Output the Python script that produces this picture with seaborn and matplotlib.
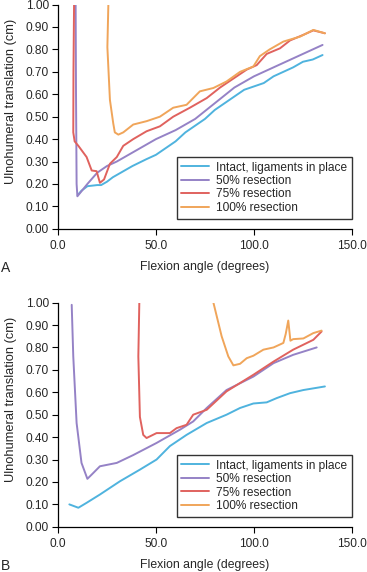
"""Ulnohumeral translation vs flexion angle, two panels (A, B)."""

import matplotlib
matplotlib.use("Agg")
import matplotlib.pyplot as plt
import seaborn as sns

# ---- data: panel A ----
a_intact_x = [10, 12, 15, 20, 22, 25, 28, 32, 38, 45, 50, 55, 60, 65, 70, 75, 80, 85,
              90, 95, 100, 105, 110, 115, 120, 125, 130, 135]
a_intact_y = [0.15, 0.17, 0.19, 0.195, 0.195, 0.21, 0.23, 0.25, 0.28, 0.31, 0.33, 0.36,
              0.39, 0.43, 0.46, 0.49, 0.53, 0.56, 0.59, 0.62, 0.635, 0.65, 0.68, 0.70,
              0.72, 0.745, 0.755, 0.775]
a_50_x = [9.0, 9.2, 9.5, 9.9, 15, 20, 25, 30, 40, 50, 60, 70, 80, 90, 100, 110, 120, 130, 135]
a_50_y = [1.0, 0.6, 0.2, 0.145, 0.20, 0.25, 0.28, 0.30, 0.35, 0.40, 0.44, 0.49, 0.56,
          0.63, 0.68, 0.72, 0.76, 0.80, 0.82]
a_75_x = [8.2, 7.9, 7.8, 8.5, 10.4, 14.6, 17.2, 19.7, 21.4, 23.5, 26.5, 30, 33.3, 38.4,
          45.2, 52, 58.8, 67.3, 75.9, 82.7, 89.5, 96.3, 101.4, 106.5, 113.3, 118.4,
          125.2, 130.3, 136.2]
a_75_y = [1.0, 0.7, 0.43, 0.39, 0.37, 0.32, 0.26, 0.257, 0.205, 0.22, 0.29, 0.32, 0.37,
          0.40, 0.435, 0.457, 0.50, 0.54, 0.583, 0.63, 0.67, 0.71, 0.73, 0.78, 0.805,
          0.84, 0.865, 0.885, 0.872]
a_100_x = [25.7, 25.2, 26.5, 28.2, 29, 30.8, 33.3, 38.4, 45.2, 52, 58.8, 65.6, 72.4,
           79.3, 86, 92.9, 99.7, 103, 108, 115, 123.5, 130.3, 136.2]
a_100_y = [1.0, 0.81, 0.575, 0.47, 0.43, 0.42, 0.43, 0.465, 0.48, 0.50, 0.54, 0.553,
           0.613, 0.628, 0.657, 0.70, 0.724, 0.77, 0.80, 0.835, 0.857, 0.887, 0.872]

# ---- data: panel B ----
b_intact_x = [5.8, 10.4, 14.6, 21.4, 31.6, 41.8, 50.3, 57.1, 65.6, 75.9, 86, 92.9, 99.7,
              106.5, 111.6, 118.4, 125.2, 136.2]
b_intact_y = [0.10, 0.085, 0.107, 0.144, 0.203, 0.255, 0.30, 0.36, 0.41, 0.463, 0.50,
              0.53, 0.55, 0.555, 0.574, 0.596, 0.61, 0.626]
b_50_x = [7, 7.8, 9.5, 12, 15, 17.2, 21.4, 30, 38.4, 50.3, 62.2, 69, 75.9, 86, 99.7, 110,
          120, 132]
b_50_y = [0.99, 0.76, 0.463, 0.285, 0.214, 0.233, 0.27, 0.285, 0.32, 0.374, 0.433, 0.47,
          0.53, 0.61, 0.67, 0.73, 0.767, 0.80]
b_75_x = [41.5, 41, 41.8, 43.5, 45.2, 50.3, 57.1, 60.5, 65.6, 69, 75.9, 86, 99.7, 110,
          120, 130.3, 134.5]
b_75_y = [1.0, 0.76, 0.49, 0.41, 0.396, 0.418, 0.418, 0.44, 0.455, 0.50, 0.522, 0.604,
          0.678, 0.737, 0.79, 0.834, 0.871]
b_100_x = [79.3, 83.5, 86.9, 89.5, 92.9, 96.3, 99.7, 104.8, 110, 115, 116.2, 117.5,
           118.6, 120, 125.2, 130.3, 134.5]
b_100_y = [1.0, 0.85, 0.76, 0.72, 0.727, 0.752, 0.763, 0.79, 0.80, 0.82, 0.86, 0.92,
           0.83, 0.837, 0.84, 0.864, 0.875]

series_labels = ["Intact, ligaments in place", "50% resection", "75% resection",
                 "100% resection"]
series_colors = ["#4fb3de", "#9582c6", "#e0625e", "#f0a55a"]
x_ticks = [0, 50, 100, 150]
y_ticks = [0.0, 0.1, 0.2, 0.3, 0.4, 0.5, 0.6, 0.7, 0.8, 0.9, 1.0]

panels = [
    ("A", [(a_intact_x, a_intact_y), (a_50_x, a_50_y), (a_75_x, a_75_y), (a_100_x, a_100_y)]),
    ("B", [(b_intact_x, b_intact_y), (b_50_x, b_50_y), (b_75_x, b_75_y), (b_100_x, b_100_y)]),
]

sns.set_style("ticks")
plt.rcParams["font.family"] = ["Liberation Sans", "DejaVu Sans"]

fig = plt.figure(figsize=(3.67, 5.72), dpi=100)
axes_boxes = [[0.158, 0.600, 0.801, 0.392], [0.158, 0.079, 0.801, 0.392]]

for (letter, series), box in zip(panels, axes_boxes):
    ax = fig.add_axes(box)
    for (xs, ys), label, color in zip(series, series_labels, series_colors):
        sns.lineplot(x=xs, y=ys, sort=False, estimator=None, color=color, lw=1.4,
                     label=label, ax=ax)
    ax.set_xlim(0, 150)
    ax.set_ylim(0, 1.0)
    ax.set_xticks(x_ticks)
    ax.set_xticklabels([f"{t:.1f}" for t in x_ticks])
    ax.set_yticks(y_ticks)
    ax.set_yticklabels([f"{t:.2f}" for t in y_ticks])
    ax.tick_params(labelsize=8.6, length=4, width=0.8, color="black", pad=2.5)
    ax.tick_params(axis="x", pad=4)
    for side in ("top", "right"):
        ax.spines[side].set_visible(False)
    for side in ("left", "bottom"):
        ax.spines[side].set_linewidth(0.9)
        ax.spines[side].set_color("black")
    ax.set_xlabel("Flexion angle (degrees)", fontsize=8.8)
    ax.xaxis.set_label_coords(0.5, -0.145)
    ax.set_ylabel("Ulnohumeral translation (cm)", fontsize=9.3)
    ax.yaxis.set_label_coords(-0.14, 0.57)
    leg = ax.legend(loc="lower right", bbox_to_anchor=(1.0, 0.045), fontsize=8.6,
                    frameon=True, fancybox=False, edgecolor="black", handlelength=2.3,
                    borderpad=0.4, labelspacing=0.12, handletextpad=0.6,
                    borderaxespad=0)
    leg.get_frame().set_linewidth(1.0)
    ax.text(-0.178, -0.175, letter, transform=ax.transAxes, fontsize=10,
            ha="center", va="center")

fig.savefig("out.png", dpi=100)
